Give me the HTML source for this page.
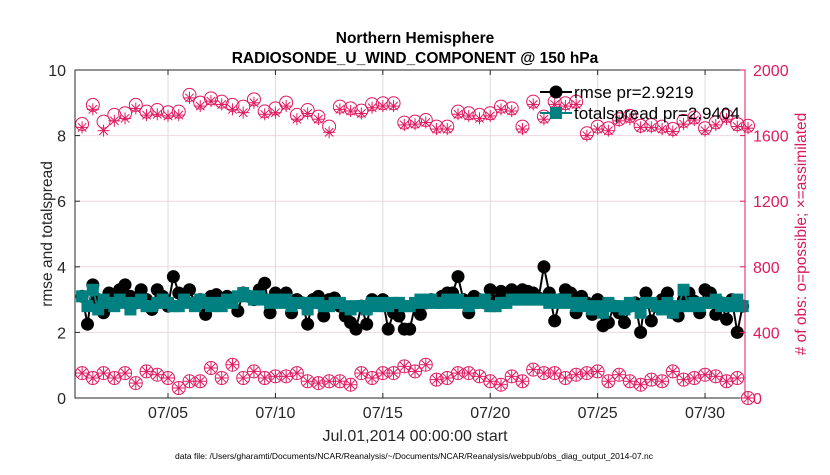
<!DOCTYPE html>
<html><head><meta charset="utf-8"><style>
body{margin:0;background:#fff;font-family:"Liberation Sans",sans-serif}
svg text{font-family:"Liberation Sans",sans-serif}
</style></head><body>
<svg id="chart" width="830" height="470" xmlns="http://www.w3.org/2000/svg">
<text x="415" y="43" text-anchor="middle" font-size="15.5" font-weight="bold">Northern Hemisphere</text>
<text x="415" y="63" text-anchor="middle" font-size="15.5" font-weight="bold">RADIOSONDE_U_WIND_COMPONENT @ 150 hPa</text>
<g id="grid"></g>
<g id="marks"></g>
<g id="axes"></g>
<text transform="translate(52,234) rotate(-90)" text-anchor="middle" font-size="15.5" fill="#262626">rmse and totalspread</text>
<text transform="translate(806,234) rotate(-90)" text-anchor="middle" font-size="15.5" fill="#d81b60">#  of obs: o=possible; ×=assimilated</text>
<text x="415" y="441" text-anchor="middle" font-size="16" fill="#262626">Jul.01,2014 00:00:00 start</text>
<text x="414" y="459" text-anchor="middle" font-size="8.5" fill="#000">data file: /Users/gharamti/Documents/NCAR/Reanalysis/~/Documents/NCAR/Reanalysis/webpub/obs_diag_output_2014-07.nc</text>
<g id="legend">
 <line x1="540" y1="92" x2="572" y2="92" stroke="#000" stroke-width="2"/>
 <circle cx="556" cy="92" r="6.5" fill="#000"/>
 <text x="574" y="98" font-size="17" fill="#000">rmse pr=2.9219</text>
 <line x1="540" y1="113" x2="572" y2="113" stroke="#008080" stroke-width="2"/>
 <rect x="550" y="107" width="12" height="12" fill="#008080"/>
 <text x="574" y="119" font-size="17" fill="#000">totalspread pr=2.9404</text>
</g>
</svg>
<script>
const xTickDays=[4,9,14,19,24,29];
const xTickLabels=["07/05","07/10","07/15","07/20","07/25","07/30"];
const leftTicks=[0,2,4,6,8,10];
const rightTicks=[0,400,800,1200,1600,2000];
const possibleTop=[1671,1787,1685,1726,1736,1787,1746,1756,1742,1746,1848,1801,1827,1807,1787,1777,1821,1748,1766,1801,1726,1756,1716,1655,1777,1766,1752,1791,1797,1797,1679,1685,1695,1655,1655,1746,1736,1726,1736,1777,1766,1655,1807,1716,1807,1797,1807,1614,1655,1645,1700,1720,1660,1665,1655,1640,1690,1710,1645,1680,1720,1670,1660];
const assimTop=[1650,1760,1630,1690,1705,1765,1725,1730,1720,1725,1830,1780,1810,1790,1760,1740,1800,1730,1740,1780,1700,1735,1700,1620,1760,1750,1735,1770,1780,1780,1665,1670,1680,1640,1640,1730,1720,1705,1720,1760,1750,1640,1790,1700,1790,1780,1790,1600,1640,1630,1690,1700,1650,1650,1640,1625,1670,1695,1630,1665,1700,1655,1645];
const possibleBottom=[152,122,152,122,152,91,162,142,122,61,102,102,183,122,203,122,162,122,132,132,152,102,91,102,102,81,152,122,152,152,193,162,203,112,122,152,152,132,102,81,132,102,173,152,152,122,142,152,162,102,142,102,81,112,102,162,112,122,142,132,102,122,0];
const rmse=[3.1,2.25,3.45,3.0,2.6,3.2,2.9,3.3,3.45,3.1,2.9,3.3,3.0,2.7,3.3,3.1,2.8,3.7,3.2,3.0,3.3,2.9,3.0,2.55,3.1,3.15,2.9,3.1,3.0,2.65,3.2,3.1,3.0,3.3,3.5,2.6,3.2,3.1,3.2,2.6,3.0,2.9,2.25,3.0,3.1,2.5,3.0,3.05,2.8,2.5,2.3,2.1,2.8,2.25,3.0,2.9,3.0,2.1,2.6,2.5,2.1,2.1,2.8,2.55,2.9,3.0,2.95,3.1,3.2,3.2,3.7,3.0,2.6,3.1,3.0,2.9,3.3,2.95,3.25,3.1,3.3,3.1,3.3,3.25,3.2,3.05,4.0,3.2,2.35,3.0,3.3,3.2,2.6,3.1,2.9,2.55,3.0,2.2,2.3,2.8,2.6,2.3,2.8,2.9,2.0,3.2,2.35,2.8,3.0,3.2,2.6,2.5,3.0,3.2,2.95,2.6,3.3,3.2,2.55,2.9,2.4,3.0,2.0,2.8];
const spread=[3.1,2.8,3.3,2.7,3.0,2.9,2.8,3.0,2.9,2.7,2.9,3.0,2.8,2.8,2.9,3.0,2.9,2.8,2.8,3.0,2.9,2.8,3.0,2.9,2.8,2.9,2.8,3.0,2.9,3.1,3.2,3.1,3.0,3.1,3.0,2.9,3.0,2.9,3.0,2.8,2.9,2.9,2.7,2.9,2.9,2.8,2.8,2.9,2.9,2.8,2.7,2.8,2.8,2.7,2.9,2.8,2.9,2.8,2.9,2.9,2.8,2.8,2.9,3.0,2.9,3.0,2.9,2.9,3.0,2.9,3.0,2.9,2.8,2.9,2.9,3.0,2.8,2.8,2.9,2.9,3.0,3.0,3.0,3.0,3.0,3.0,3.0,2.9,3.0,2.9,3.0,2.9,2.8,2.9,2.8,2.7,2.8,2.6,2.9,2.8,2.8,2.7,2.9,2.8,2.6,2.9,2.9,2.8,2.7,2.9,2.6,2.8,3.3,2.8,2.9,2.8,2.9,2.9,3.0,2.8,2.9,2.8,3.0,2.8];
const X0=75,X1=745,Y0=398,Y1=70,DMIN=-0.33,DMAX=30.86;
const xs=d=>X0+(d-DMIN)/(DMAX-DMIN)*(X1-X0);
const yl=v=>Y0-v/10*(Y0-Y1);
const yr=v=>Y0-v/2000*(Y0-Y1);
const NS="http://www.w3.org/2000/svg";
function mk(tag,attrs,parent){const e=document.createElementNS(NS,tag);for(const k in attrs)e.setAttribute(k,attrs[k]);parent.appendChild(e);return e;}
const grid=document.getElementById('grid'),marks=document.getElementById('marks'),axes=document.getElementById('axes');
leftTicks.forEach(v=>{if(v>0&&v<10){const l=mk('line',{x1:X0,x2:X1,y1:yl(v),y2:yl(v),stroke:'#f1d6e0','stroke-width':1},grid);

}});
xTickDays.forEach(d=>{const l=mk('line',{x1:xs(d),x2:xs(d),y1:Y1,y2:Y0,stroke:'#dcdcdc','stroke-width':1},grid);

});
const pink='#e0195f';
function star(cx,cy,g){const r=6;mk('line',{x1:cx-r,x2:cx+r,y1:cy,y2:cy,stroke:pink,'stroke-width':1},g);mk('line',{x1:cx,x2:cx,y1:cy-r,y2:cy+r,stroke:pink,'stroke-width':1},g);const q=r*0.7;mk('line',{x1:cx-q,x2:cx+q,y1:cy-q,y2:cy+q,stroke:pink,'stroke-width':1},g);mk('line',{x1:cx-q,x2:cx+q,y1:cy+q,y2:cy-q,stroke:pink,'stroke-width':1},g);}
function pinkSeries(poss,ass,name){poss.forEach((v,i)=>{const d=i*0.5;if(d>DMAX+0.2)return;const g=mk('g',{},marks);


mk('circle',{cx:xs(d),cy:yr(v),r:6.5,fill:'none',stroke:pink,'stroke-width':1},g);star(xs(d),yr(ass?ass[i]:v),g);});}
pinkSeries(possibleTop,assimTop,'obs-count-total');
pinkSeries(possibleBottom,null,'obs-count-level');
function line(arr){let p='';arr.forEach((v,i)=>{p+=(i?'L':'M')+xs(i*0.25).toFixed(1)+','+yl(v).toFixed(1);});return p;}
const rl=mk('path',{d:line(rmse),fill:'none',stroke:'#000','stroke-width':2},marks);


rmse.forEach((v,i)=>{const c=mk('circle',{cx:xs(i*0.25),cy:yl(v),r:6.5,fill:'#000'},marks);

});
const sl=mk('path',{d:line(spread),fill:'none',stroke:'#008080','stroke-width':2},marks);


spread.forEach((v,i)=>{const r=mk('rect',{x:xs(i*0.25)-6,y:yl(v)-6,width:12,height:12,fill:'#008080'},marks);

});
mk('rect',{x:X0,y:Y1,width:X1-X0,height:Y0-Y1,fill:'none',stroke:'#262626','stroke-width':1},axes);
mk('line',{x1:X1,x2:X1,y1:Y1,y2:Y0,stroke:pink,'stroke-width':1},axes);
leftTicks.forEach(v=>{mk('line',{x1:X0,x2:X0+5,y1:yl(v),y2:yl(v),stroke:'#262626'},axes);const t=mk('text',{x:X0-9,y:yl(v)+6,'text-anchor':'end','font-size':16,fill:'#262626'},axes);t.textContent=v;

});
rightTicks.forEach(v=>{mk('line',{x1:X1-5,x2:X1,y1:yr(v),y2:yr(v),stroke:pink},axes);const t=mk('text',{x:X1+8,y:yr(v)+6,'font-size':16,fill:pink},axes);t.textContent=v;

});
xTickDays.forEach((d,i)=>{mk('line',{x1:xs(d),x2:xs(d),y1:Y0,y2:Y0-5,stroke:'#262626'},axes);mk('line',{x1:xs(d),x2:xs(d),y1:Y1,y2:Y1+5,stroke:'#262626'},axes);const t=mk('text',{x:xs(d),y:Y0+20,'text-anchor':'middle','font-size':16,fill:'#262626'},axes);t.textContent=xTickLabels[i];

});
</script>
</body></html>
